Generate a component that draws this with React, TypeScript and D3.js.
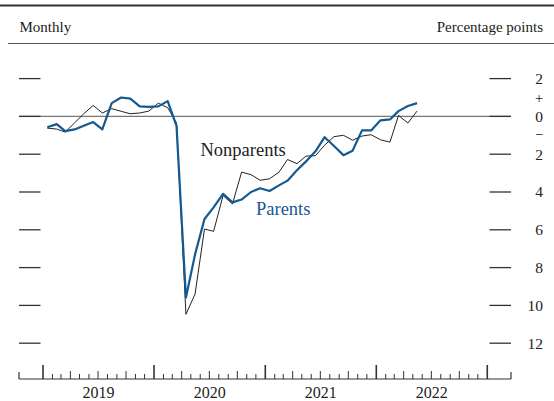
import React from 'react';
import * as d3 from 'd3';

// monthly values, Jan 2019 - May 2022, percentage points
const parents = [
  -0.57, -0.41, -0.78, -0.69, -0.5, -0.3, -0.69, 0.7, 1.0, 0.94, 0.53, 0.5,
  0.53, 0.81, -0.5, -9.58, -7.3, -5.43, -4.81, -4.1, -4.55, -4.4, -4.0, -3.8,
  -3.95, -3.65, -3.4, -2.85, -2.38, -1.85, -1.1, -1.57, -2.05, -1.82, -0.74, -0.74,
  -0.21, -0.16, 0.28, 0.55, 0.7,
];
const nonparents = [
  -0.62, -0.67, -0.83, -0.34, 0.14, 0.58, 0.18, 0.41, 0.27, 0.14, 0.18, 0.28,
  0.7, 0.46, -0.35, -10.47, -9.4, -5.96, -6.08, -4.19, -4.63, -2.95, -3.08, -3.38,
  -3.3, -2.95, -2.28, -2.5, -2.1, -2.08, -1.52, -1.07, -1.0, -1.26, -1.04, -0.97,
  -1.24, -1.36, 0.05, -0.35, 0.28,
];
const years = [2019, 2020, 2021, 2022];
const yTicks = [2, 0, -2, -4, -6, -8, -10, -12];
const signLabels = [
  { v: 1, t: '+' },
  { v: -1, t: '\u2212' },
];

const blue = '#145a91';
const font = '"Liberation Serif", "Times New Roman", serif';

export default function App() {
  const width = 554,
    height = 401;

  const x = d3
    .scaleTime()
    .domain([new Date(2018, 9, 14), new Date(2023, 2, 20)])
    .range([19, 511]);
  const y = d3.scaleLinear().domain([2, -12]).range([78.6, 343.2]);

  const date = (i: number) => new Date(2019, i, 15);
  const line = d3
    .line<number>()
    .x((d, i) => x(date(i)))
    .y((d) => y(d));

  const months = d3.timeMonth.range(new Date(2019, 0, 1), new Date(2023, 0, 2));
  const axisY = 379;

  return (
    <svg
      width={width}
      height={height}
      style={{ position: 'absolute', left: 0, top: 0 }}
      fontFamily={font}
    >
      <rect width={width} height={height} fill="#fff" />
      {/* header */}
      <line x1={0} x2={width} y1={5.5} y2={5.5} stroke="#333" strokeWidth={2} />
      <text x={19.5} y={32} fontSize={15} fill="#222">Monthly</text>
      <text x={543} y={32} fontSize={15} fill="#222" textAnchor="end">Percentage points</text>
      <line x1={8} x2={width} y1={43.5} y2={43.5} stroke="#555" strokeWidth={1} />

      {/* value ticks */}
      <line x1={19} x2={511} y1={y(0)} y2={y(0)} stroke="#777" strokeWidth={1.3} />
      {yTicks.map((v) => (
        <g key={v}>
          <line x1={19} x2={40.5} y1={y(v)} y2={y(v)} stroke="#333" strokeWidth={1.3} />
          <line x1={489.5} x2={511} y1={y(v)} y2={y(v)} stroke="#333" strokeWidth={1.3} />
          <text x={543} y={y(v)} dy="0.35em" fontSize={15.5} fill="#222" textAnchor="end">
            {Math.abs(v)}
          </text>
        </g>
      ))}
      {signLabels.map((s) => (
        <text
          key={s.t}
          x={539}
          y={y(s.v) + (s.v < 0 ? -1 : 0)}
          dy="0.35em"
          fontSize={14.5}
          fill="#222"
          textAnchor="middle"
        >
          {s.t}
        </text>
      ))}

      {/* time axis */}
      <line x1={19} x2={511} y1={axisY} y2={axisY} stroke="#333" strokeWidth={1.2} />
      <line x1={19} x2={19} y1={axisY} y2={axisY - 7} stroke="#333" strokeWidth={1.2} />
      <line x1={511} x2={511} y1={axisY} y2={axisY - 7} stroke="#333" strokeWidth={1.2} />
      {months.map((m) => {
        const h = m.getMonth() === 0 ? 14 : m.getMonth() % 3 === 0 ? 8 : 5;
        return (
          <line
            key={+m}
            x1={x(m)}
            x2={x(m)}
            y1={axisY}
            y2={axisY - h}
            stroke="#333"
            strokeWidth={m.getMonth() === 0 ? 1.6 : 1}
          />
        );
      })}
      {years.map((yr) => (
        <text
          key={yr}
          x={(x(new Date(yr, 0, 1)) + x(new Date(yr + 1, 0, 1))) / 2}
          y={398}
          fontSize={16}
          fill="#222"
          textAnchor="middle"
        >
          {yr}
        </text>
      ))}

      {/* series */}
      <path d={line(nonparents) || ''} fill="none" stroke="#222" strokeWidth={1} strokeLinejoin="round" />
      <path d={line(parents) || ''} fill="none" stroke={blue} strokeWidth={2.2} strokeLinejoin="round" />

      <text x={200.5} y={155.5} fontSize={18.5} fill="#222">Nonparents</text>
      <text x={256} y={215} fontSize={18.5} fill={blue}>Parents</text>
    </svg>
  );
}
